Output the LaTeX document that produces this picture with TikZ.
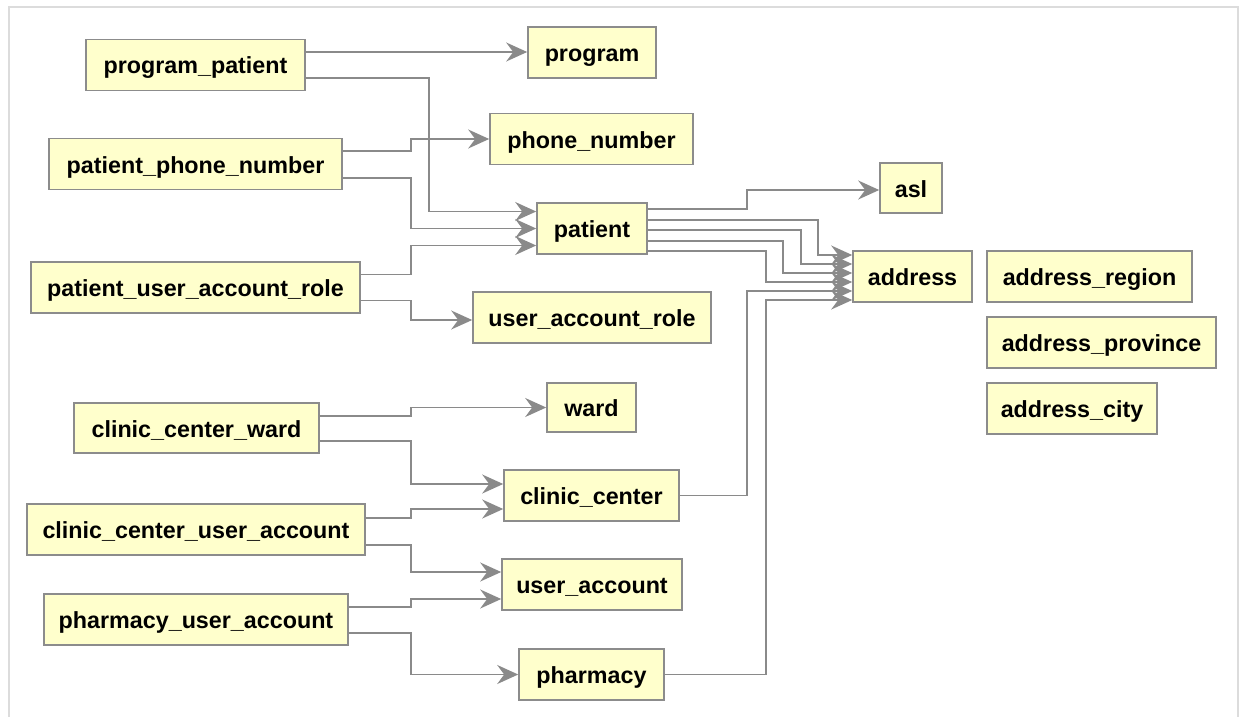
\documentclass[tikz,border=0pt]{standalone}
\usepackage{fontspec}
\setmainfont{Liberation Sans}
\usetikzlibrary{arrows.meta,calc}
\definecolor{boxfill}{HTML}{FFFFCC}
\definecolor{boxline}{HTML}{8C8C8C}
\definecolor{linkgray}{HTML}{8A8A8A}
\definecolor{framegray}{HTML}{DCDCDC}
\tikzset{
  table/.style={draw=boxline, line width=1.6pt, fill=boxfill, inner sep=0pt,
    minimum height=51pt, text height=21pt, text depth=3pt,
    font=\bfseries\fontsize{23.3}{28}\selectfont},
  link/.style={draw=linkgray, line width=1.8pt,
    -{Stealth[length=21pt,width=19pt,inset=7pt,fill=linkgray]}}
}
\begin{document}
\begin{tikzpicture}[x=1pt,y=-1pt]
\useasboundingbox (0,0) rectangle (1245,717);
% outer frame
\draw[framegray, line width=2.5pt] (9,717) -- (9,7) -- (1238,7) -- (1238,717);

% tables
\node[table, minimum width=219pt] (pp)    at (195.5,65)   {program\_patient};
\node[table, minimum width=128pt] (prog)  at (592,52.5)   {program};
\node[table, minimum width=203pt] (phone) at (591.5,139)  {phone\_number};
\node[table, minimum width=293pt] (ppn)   at (195.5,164)  {patient\_phone\_number};
\node[table, minimum width=62pt, minimum height=50pt] (asl) at (911,188) {asl};
\node[table, minimum width=110pt] (pat)   at (592,228.5)  {patient};
\node[table, minimum width=119pt] (addr)  at (912.5,276.5) {address};
\node[table, minimum width=205pt] (areg)  at (1089.5,276.5) {address\_region};
\node[table, minimum width=229pt] (aprov) at (1101.5,342.5) {address\_province};
\node[table, minimum width=170pt] (acity) at (1072,408.5) {address\_city};
\node[table, minimum width=329pt] (puar)  at (195.5,287.5) {patient\_user\_account\_role};
\node[table, minimum width=238pt] (uar)   at (592,317.5)  {user\_account\_role};
\node[table, minimum width=89pt, minimum height=49pt] (ward) at (591.5,407.5) {ward};
\node[table, minimum width=245pt, minimum height=50pt] (ccw) at (196.5,428) {clinic\_center\_ward};
\node[table, minimum width=175pt] (cc)    at (591.5,495.5) {clinic\_center};
\node[table, minimum width=338pt] (ccua)  at (196,529.5)  {clinic\_center\_user\_account};
\node[table, minimum width=180pt] (ua)    at (592,584.5)  {user\_account};
\node[table, minimum width=304pt] (pua)   at (196,619.5)  {pharmacy\_user\_account};
\node[table, minimum width=145pt] (ph)    at (591.5,674.5) {pharmacy};

% foreign keys of the link tables
\coordinate (ppout) at ([yshift=13pt]pp.east);
\draw[link] (ppout) -- (prog.west |- ppout);
\draw[link] ([yshift=-13pt]pp.east) -- ++(123,0) |- ([yshift=17pt]pat.west);
\draw[link] ([yshift=13pt]ppn.east) -- ++(68,0) |- (phone.west);
\draw[link] ([yshift=-14pt]ppn.east) -- ++(68,0) |- (pat.west);
\draw[link] ([yshift=13pt]puar.east) -- ++(50,0) |- ([yshift=-17pt]pat.west);
\draw[link] ([yshift=-13pt]puar.east) -- ++(50,0) |- ([yshift=-2.5pt]uar.west);
\draw[link] ([yshift=12pt]ccw.east) -- ++(91,0) |- (ward.west);
\draw[link] ([yshift=-13pt]ccw.east) -- ++(91,0) |- ([yshift=11.5pt]cc.west);
\draw[link] ([yshift=11.5pt]ccua.east) -- ++(45,0) |- ([yshift=-13.5pt]cc.west);
\draw[link] ([yshift=-15.5pt]ccua.east) -- ++(45,0) |- ([yshift=12.5pt]ua.west);
\draw[link] ([yshift=12.5pt]pua.east) -- ++(62,0) |- ([yshift=-14.5pt]ua.west);
\draw[link] ([yshift=-13.5pt]pua.east) -- ++(62,0) |- (ph.west);

% patient references
\draw[link] ([yshift=19.5pt]pat.east) -- ++(99,0) |- ([yshift=-2pt]asl.west);
\draw[link] ([yshift=8.5pt]pat.east) -- ++(170,0) |- ([yshift=21.5pt]addr.west);
\draw[link] ([yshift=-1.5pt]pat.east) -- ++(153,0) |- ([yshift=12.5pt]addr.west);
\draw[link] ([yshift=-12.5pt]pat.east) -- ++(135,0) |- ([yshift=3.5pt]addr.west);
\draw[link] ([yshift=-22.5pt]pat.east) -- ++(118,0) |- ([yshift=-5.5pt]addr.west);

% address references from below
\draw[link] (cc.east) -- ++(67,0) |- ([yshift=-14.5pt]addr.west);
\draw[link] (ph.east) -- ++(101,0) |- ([yshift=-23.5pt]addr.west);
\end{tikzpicture}
\end{document}
